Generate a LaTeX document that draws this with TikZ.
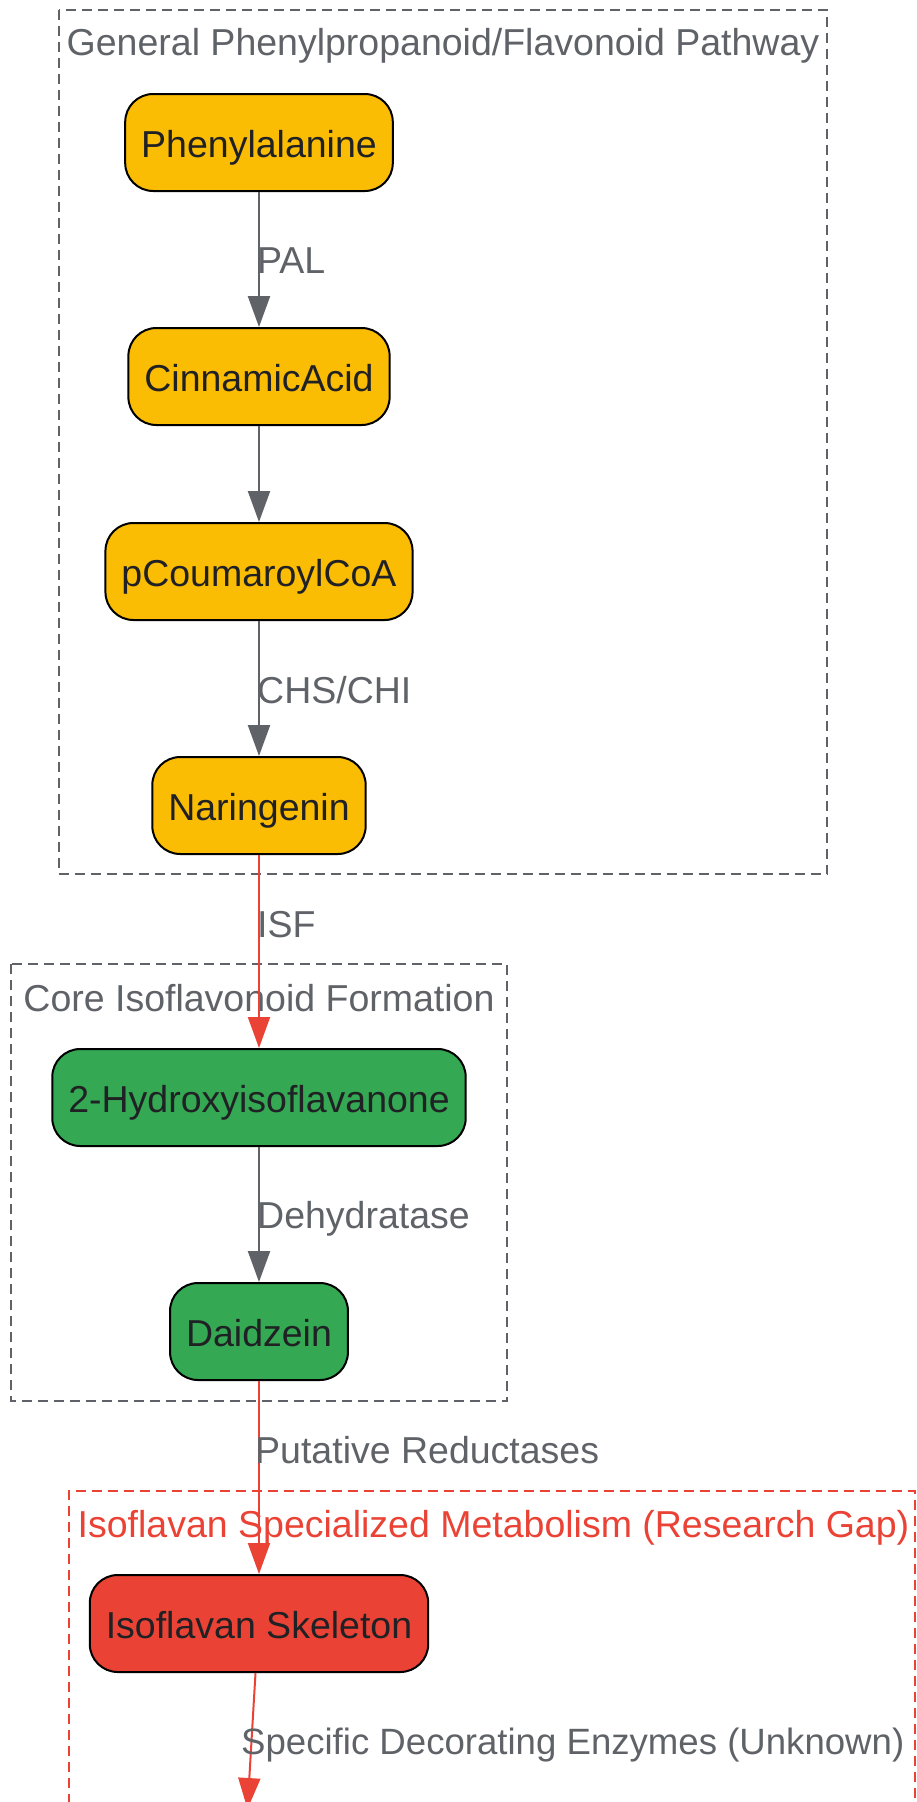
\documentclass[tikz,border=0pt]{standalone}
\usepackage{fontspec}
\setmainfont{Liberation Sans}
\usetikzlibrary{arrows.meta}
\definecolor{gyellow}{HTML}{FBBC04}
\definecolor{ggreen}{HTML}{34A853}
\definecolor{gred}{HTML}{EA4335}
\definecolor{ggray}{HTML}{5F6368}
\definecolor{gdark}{HTML}{202124}
\begin{document}
\begin{tikzpicture}[x=1pt,y=1pt,
  every node/.style={font=\fontsize{37.5}{45}\selectfont},
  stepbox/.style={draw=black, line width=2pt, rounded corners=28pt, minimum height=97pt,
    inner xsep=16pt, inner ysep=0pt, text height=29pt, text depth=0pt, text=gdark},
  ybox/.style={stepbox, fill=gyellow},
  gbox/.style={stepbox, fill=ggreen},
  rbox/.style={stepbox, fill=gred},
  cluster/.style={draw=ggray, line width=2pt, dash pattern=on 10pt off 6pt},
  rcluster/.style={draw=gred, line width=2pt, dash pattern=on 10pt off 6pt},
  ctitle/.style={text=ggray, anchor=base, inner sep=0pt},
  elabel/.style={text=ggray, anchor=base west, inner sep=0pt},
  garrow/.style={draw=ggray, line width=2.3pt, -{Triangle[length=31pt,width=22pt]}},
  rarrow/.style={draw=gred, line width=2pt, -{Triangle[length=31pt,width=22pt]}},
]
\useasboundingbox (0,0) rectangle (917,-1802);
\fill[white] (0,0) rectangle (917,-1802);

% clusters
\draw[cluster] (58.5,-10) rectangle (827,-874);
\node[ctitle] (t1) at (443,-55) {General Phenylpropanoid/Flavonoid Pathway};
\draw[cluster] (10.5,-964) rectangle (507,-1401);
\node[ctitle] (t2) at (259,-1011) {Core Isoflavonoid Formation};
\draw[rcluster] (69,-1900) -- (69,-1491) -- (915,-1491) -- (915,-1900);
\node[ctitle, text=gred] (t3) at (493.5,-1537) {Isoflavan Specialized Metabolism (Research Gap)};

% nodes
\node[ybox] (phe) at (259,-142.5) {Phenylalanine};
\node[ybox] (cin) at (259,-376.5) {CinnamicAcid};
\node[ybox] (pco) at (259,-571.5) {pCoumaroylCoA};
\node[ybox] (nar) at (259,-805.5) {Naringenin};
\node[gbox] (hyd) at (259,-1097.5) {2-Hydroxyisoflavanone};
\node[gbox] (dai) at (259,-1331.5) {Daidzein};
\node[rbox] (iso) at (259,-1623.5) {Isoflavan Skeleton};
\coordinate (offpage) at (247.5,-1809);

% edges
\draw[garrow] (phe.south) -- (cin.north);
\draw[garrow] (cin.south) -- (pco.north);
\draw[garrow] (pco.south) -- (nar.north);
\draw[rarrow] (nar.south) -- (hyd.north);
\draw[garrow] (hyd.south) -- (dai.north);
\draw[rarrow] (dai.south) -- (iso.north);
\draw[rarrow] ([xshift=-3.5pt]iso.south) -- (offpage);

% edge labels
\node[elabel] (lpal) at (257,-273) {PAL};
\node[elabel] (lchs) at (257,-703) {CHS/CHI};
\node[elabel] (lisf) at (257,-937) {ISF};
\node[elabel] (ldeh) at (257,-1228) {Dehydratase};
\node[elabel] (lred) at (255,-1463) {Putative Reductases};
\node[elabel, font=\fontsize{36.6}{44}\selectfont] (ldec) at (241,-1754) {Specific Decorating Enzymes (Unknown)};
\end{tikzpicture}
\end{document}
